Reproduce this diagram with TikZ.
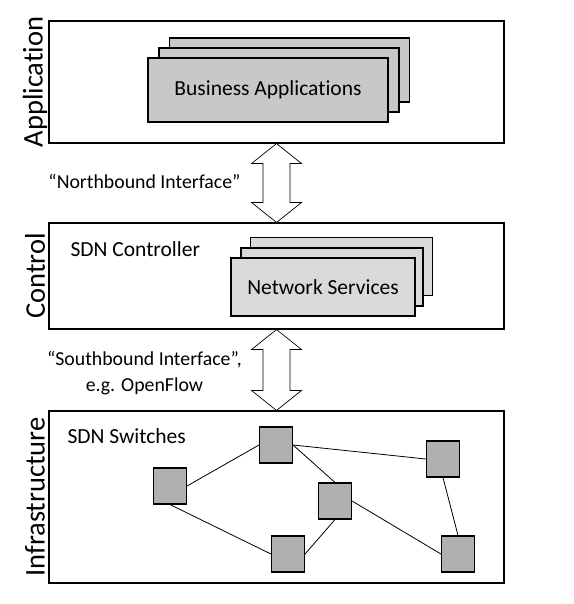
\documentclass[tikz,border=0pt]{standalone}
\usepackage{fontspec}
\setmainfont{Carlito}[RawFeature=-liga]
\usetikzlibrary{calc}

\definecolor{appgray}{HTML}{C8C8C8}
\definecolor{srvgray}{HTML}{D9D9D9}
\definecolor{swgray}{HTML}{B0B0B0}

\tikzset{
  layer/.style={draw, line width=1.1pt, minimum width=455, inner sep=0pt},
  layername/.style={rotate=90, font=\fontsize{28.5}{34}\selectfont},
  stack/.style={draw, line width=1.1pt, inner sep=0pt},
  boxtext/.style={font=\fontsize{21.5}{26}\selectfont},
  iface/.style={draw, line width=0.7pt, fill=white},
  ifacetext/.style={font=\fontsize{19.8}{26}\selectfont, align=center},
  swbox/.style={draw, line width=1.1pt, fill=swgray, minimum width=33, minimum height=36, inner sep=0pt},
  link/.style={line width=0.8pt}
}

\begin{document}
\begin{tikzpicture}[x=1pt, y=-1pt]
\useasboundingbox (0,0) rectangle (573,604);

%layers
\node[layer, minimum height=122] at (276.5,82) (app) {};
\node[layer, minimum height=106] at (276.5,276) (ctl) {};
\node[layer, minimum height=172] at (276.5,497) (inf) {};

\node[layername] at (35,82) (appname) {Application};
\node[layername] at (35,276) (ctlname) {Control};
\node[layername] at (35,497) (infname) {Infrastructure};

%business applications stack
\node[stack, fill=appgray, minimum width=240, minimum height=64] at (289.5,70) (ba3) {};
\node[stack, fill=appgray, minimum width=240, minimum height=64] at (279,80) (ba2) {};
\node[stack, fill=appgray, minimum width=240, minimum height=64, boxtext] at (268,90) (ba1) {Business Applications};

%network services stack
\node[stack, fill=srvgray, minimum width=182, minimum height=58] at (341.5,266.5) (ns3) {};
\node[stack, fill=srvgray, minimum width=182, minimum height=58] at (332,277) (ns2) {};
\node[stack, fill=srvgray, minimum width=184, minimum height=58, boxtext] at (323,287) (ns1) {Network Services};

\node[boxtext, anchor=west] at (67,249) (ctltext) {SDN Controller};
\node[boxtext, anchor=west] at (64,436) (swtext) {SDN Switches};

%northbound interface
\draw[iface] (app.south) -- ++(25,20) -- ++(-11.5,0) -- ($(ctl.north)+(13.5,-20)$) -- ++(11.5,0)
  -- (ctl.north) -- ++(-25,-20) -- ++(11.5,0) -- ($(app.south)+(-13.5,20)$) -- ++(-11.5,0) -- cycle;
\node[ifacetext] at (144.5,181) (nbtext) {“Northbound Interface”};

%southbound interface
\draw[iface] (ctl.south) -- ++(25,20) -- ++(-11.5,0) -- ($(inf.north)+(13.5,-20)$) -- ++(11.5,0)
  -- (inf.north) -- ++(-25,-20) -- ++(11.5,0) -- ($(ctl.south)+(-13.5,20)$) -- ++(-11.5,0) -- cycle;
\node[ifacetext] at (144.5,373) (sbtext) {“Southbound Interface”,\\e.g. OpenFlow};

%switches
\node[swbox] at (276,445) (sw1) {};
\node[swbox] at (170,486) (sw2) {};
\node[swbox] at (335,501) (sw3) {};
\node[swbox] at (443,459) (sw4) {};
\node[swbox] at (288,554) (sw5) {};
\node[swbox] at (458,554) (sw6) {};

\draw[link] (sw2.east) -- (sw1.west);
\draw[link] (sw1.east) -- (sw4.west);
\draw[link] (sw1.east) -- (sw3.north);
\draw[link] (sw3.south) -- (sw5.east);
\draw[link] (sw2.south) -- (sw5.west);
\draw[link] (sw3.east) -- (sw6.west);
\draw[link] (sw4.south) -- (sw6.north);

\end{tikzpicture}
\end{document}
